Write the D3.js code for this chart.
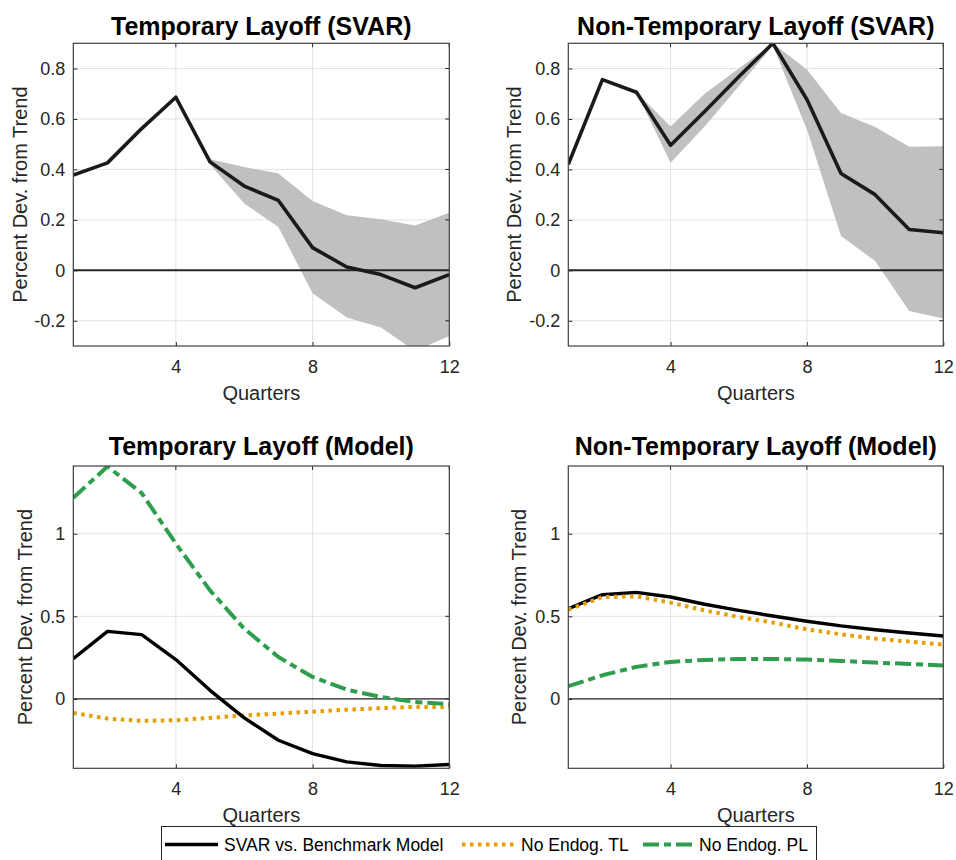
<!DOCTYPE html>
<html><head><meta charset="utf-8">
<script src="https://cdn.jsdelivr.net/npm/d3@7"></script>
<style>
body{margin:0;background:#fff;}
svg{display:block;font-family:"Liberation Sans",Arial,Helvetica,sans-serif;}
</style></head>
<body><svg id="chart" width="956" height="860"></svg>
<script>
const quarters = [1,2,3,4,5,6,7,8,9,10,11,12];

// Top-left: Temporary Layoff (SVAR)
const tlSvar      = [0.378,0.426,0.562,0.686,0.43,0.334,0.277,0.09,0.013,-0.017,-0.069,-0.017];
const tlSvarUpper = [0.378,0.426,0.562,0.686,0.44,0.41,0.384,0.275,0.218,0.202,0.178,0.228];
const tlSvarLower = [0.378,0.426,0.562,0.686,0.42,0.265,0.172,-0.091,-0.187,-0.227,-0.32,-0.26];

// Top-right: Non-Temporary Layoff (SVAR)
const ntlSvar      = [0.42,0.756,0.706,0.496,0.63,0.767,0.90,0.677,0.384,0.30,0.162,0.149];
const ntlSvarUpper = [0.42,0.756,0.706,0.57,0.70,0.80,0.90,0.796,0.624,0.568,0.49,0.492];
const ntlSvarLower = [0.42,0.756,0.706,0.426,0.57,0.73,0.89,0.558,0.136,0.037,-0.161,-0.191];

// Bottom-left: Temporary Layoff (Model)
const tlBench  = [0.244,0.409,0.389,0.238,0.052,-0.115,-0.25,-0.331,-0.381,-0.403,-0.407,-0.397];
const tlNoTL   = [-0.085,-0.119,-0.133,-0.129,-0.115,-0.1,-0.089,-0.077,-0.065,-0.056,-0.048,-0.05];
const tlNoPL   = [1.218,1.407,1.246,0.94,0.657,0.425,0.254,0.133,0.056,0.012,-0.018,-0.032];

// Bottom-right: Non-Temporary Layoff (Model)
const ntlBench = [0.546,0.631,0.645,0.617,0.573,0.536,0.502,0.47,0.442,0.419,0.399,0.381];
const ntlNoTL  = [0.54,0.617,0.621,0.583,0.536,0.496,0.462,0.421,0.391,0.365,0.347,0.329];
const ntlNoPL  = [0.077,0.143,0.194,0.224,0.236,0.242,0.242,0.238,0.23,0.22,0.212,0.202];

const xTicks = [4,8,12];
const svarYTicks = [-0.2,0,0.2,0.4,0.6,0.8];
const modelYTicks = [0,0.5,1];
const titles = ["Temporary Layoff (SVAR)","Non-Temporary Layoff (SVAR)","Temporary Layoff (Model)","Non-Temporary Layoff (Model)"];
const legendLabels = ["SVAR vs. Benchmark Model","No Endog. TL","No Endog. PL"];

const COL_BLACK = "#000000", COL_ORANGE = "#e69f00", COL_GREEN = "#2e9e4e";
const DOT = "3.5,4.5", DASHDOT = "16,5,7,5";

const svg = d3.select("#chart");

const panels = [
  {title:titles[0], x0:73.3, x1:449.3, y0:43.3, y1:346, ydom:[-0.3,0.9], yticks:svarYTicks, titleY:35,
   band:{upper:tlSvarUpper, lower:tlSvarLower}, lines:[{v:tlSvar,c:"#1a1a1a",w:3.6,d:null}], zeroW:2, ylabX:27},
  {title:titles[1], x0:568.3, x1:943.3, y0:43.3, y1:346, ydom:[-0.3,0.9], yticks:svarYTicks, titleY:35,
   band:{upper:ntlSvarUpper, lower:ntlSvarLower}, lines:[{v:ntlSvar,c:"#1a1a1a",w:3.6,d:null}], zeroW:2, ylabX:521},
  {title:titles[2], x0:73.3, x1:449.3, y0:466, y1:768.3, ydom:[-0.42,1.41], yticks:modelYTicks, titleY:455,
   band:null, lines:[{v:tlNoTL,c:COL_ORANGE,w:4,d:DOT},{v:tlNoPL,c:COL_GREEN,w:4,d:DASHDOT},{v:tlBench,c:COL_BLACK,w:3.4,d:null}], zeroW:1.4, ylabX:32},
  {title:titles[3], x0:568.3, x1:943.3, y0:466, y1:768.3, ydom:[-0.42,1.41], yticks:modelYTicks, titleY:455,
   band:null, lines:[{v:ntlBench,c:COL_BLACK,w:3.4,d:null},{v:ntlNoTL,c:COL_ORANGE,w:4,d:DOT},{v:ntlNoPL,c:COL_GREEN,w:4,d:DASHDOT}], zeroW:1.4, ylabX:526}
];

panels.forEach((p,i)=>{
  const x = d3.scaleLinear().domain([1,12]).range([p.x0,p.x1]);
  const y = d3.scaleLinear().domain(p.ydom).range([p.y1,p.y0]);
  const g = svg.append("g");
  const clipId = "clip"+i;
  svg.append("clipPath").attr("id",clipId).append("rect")
    .attr("x",p.x0).attr("y",p.y0).attr("width",p.x1-p.x0).attr("height",p.y1-p.y0);

  // grid
  g.append("g").selectAll("line").data(xTicks).join("line")
    .attr("x1",d=>x(d)).attr("x2",d=>x(d)).attr("y1",p.y0).attr("y2",p.y1)
    .attr("stroke","#e3e3e3").attr("stroke-width",1);
  g.append("g").selectAll("line").data(p.yticks).join("line")
    .attr("x1",p.x0).attr("x2",p.x1).attr("y1",d=>y(d)).attr("y2",d=>y(d))
    .attr("stroke","#e3e3e3").attr("stroke-width",1);

  const plot = g.append("g").attr("clip-path",`url(#${clipId})`);
  if(p.band){
    const area = d3.area().x((d,j)=>x(quarters[j])).y0((d,j)=>y(p.band.lower[j])).y1((d,j)=>y(p.band.upper[j]));
    plot.append("path").datum(quarters).attr("d",area).attr("fill","#c0c0c0");
  }
  plot.append("line").attr("x1",p.x0).attr("x2",p.x1).attr("y1",y(0)).attr("y2",y(0))
    .attr("stroke","#262626").attr("stroke-width",p.zeroW);
  const line = d3.line().x((d,j)=>x(quarters[j])).y(d=>y(d));
  p.lines.forEach(l=>{
    plot.append("path").datum(l.v).attr("d",line).attr("fill","none")
      .attr("stroke",l.c).attr("stroke-width",l.w).attr("stroke-dasharray",l.d)
      .attr("stroke-linejoin","round");
  });

  // axes
  const ax = g.append("g").attr("transform",`translate(0,${p.y1})`)
    .call(d3.axisBottom(x).tickValues(xTicks).tickSize(-4).tickPadding(14).tickFormat(d3.format("d")));
  const ay = g.append("g").attr("transform",`translate(${p.x0},0)`)
    .call(d3.axisLeft(y).tickValues(p.yticks).tickSize(-4).tickPadding(8).tickFormat(d=>d===0?"0":String(d)));
  [ax,ay].forEach(a=>{
    a.select(".domain").remove();
    a.selectAll("line").attr("stroke","#262626");
    a.selectAll("text").attr("fill","#262626").style("font-size","18px").style("font-family","'Liberation Sans',Arial,sans-serif");
  });
  // right & top ticks
  g.append("g").selectAll("line").data(p.yticks).join("line")
    .attr("x1",p.x1).attr("x2",p.x1-4).attr("y1",d=>y(d)).attr("y2",d=>y(d)).attr("stroke","#262626");
  g.append("g").selectAll("line").data(xTicks).join("line")
    .attr("x1",d=>x(d)).attr("x2",d=>x(d)).attr("y1",p.y0).attr("y2",p.y0+4).attr("stroke","#262626");
  // box
  g.append("rect").attr("x",p.x0).attr("y",p.y0).attr("width",p.x1-p.x0).attr("height",p.y1-p.y0)
    .attr("fill","none").attr("stroke","#404040").attr("stroke-width",1.2);

  // title
  g.append("text").attr("x",(p.x0+p.x1)/2).attr("y",p.titleY).attr("text-anchor","middle")
    .style("font-size","25px").style("font-weight","bold").attr("fill","#000").text(p.title);
  // x label
  g.append("text").attr("x",(p.x0+p.x1)/2).attr("y",p.y1+54).attr("text-anchor","middle")
    .style("font-size","20px").attr("fill","#262626").text("Quarters");
  // y label
  g.append("text").attr("transform",`translate(${p.ylabX},${(p.y0+p.y1)/2}) rotate(-90)`)
    .attr("text-anchor","middle").style("font-size","20px").attr("fill","#262626").text("Percent Dev. from Trend");
});

// legend
const lg = svg.append("g");
lg.append("rect").attr("x",161.5).attr("y",826.5).attr("width",655).attr("height",40)
  .attr("fill","#fff").attr("stroke","#262626").attr("stroke-width",1);
const items = [
  {x1:165, x2:218, tx:224, label:legendLabels[0], c:COL_BLACK, w:3.4, d:null},
  {x1:462, x2:514, tx:521, label:legendLabels[1], c:COL_ORANGE, w:4, d:DOT},
  {x1:643, x2:695, tx:699, label:legendLabels[2], c:COL_GREEN, w:4, d:DASHDOT}
];
items.forEach(it=>{
  lg.append("line").attr("x1",it.x1).attr("x2",it.x2).attr("y1",844.5).attr("y2",844.5)
    .attr("stroke",it.c).attr("stroke-width",it.w).attr("stroke-dasharray",it.d);
  lg.append("text").attr("x",it.tx).attr("y",851)
    .style("font-size","17.5px").attr("fill","#000").text(it.label);
});
</script></body></html>
